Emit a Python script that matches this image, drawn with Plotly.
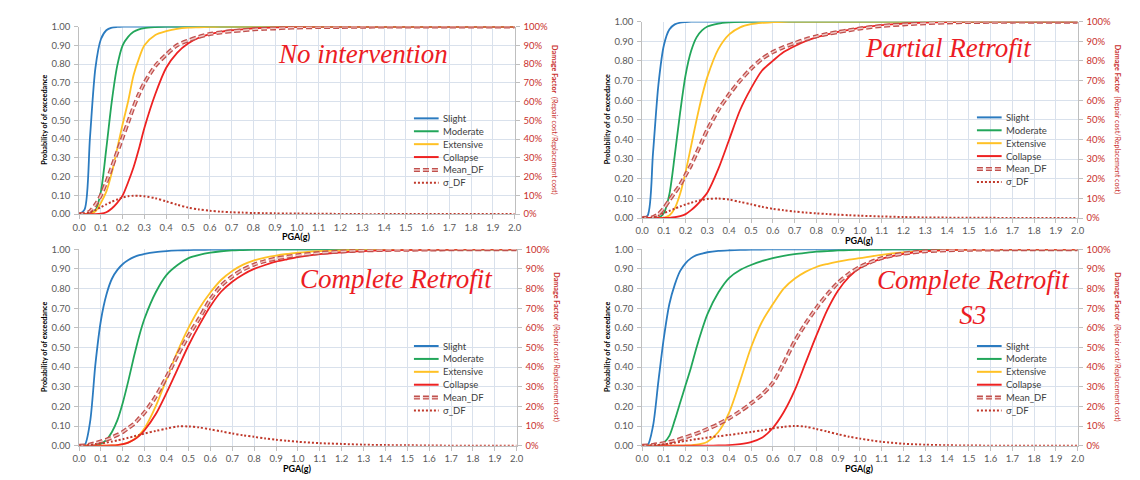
import plotly.graph_objects as go

W, H = 1140, 480

# Peak ground acceleration sample points (g)
PGA = [0.0, 0.025, 0.05, 0.075, 0.1, 0.125, 0.15, 0.175, 0.2, 0.225,
       0.25, 0.275, 0.3, 0.35, 0.4, 0.45, 0.5, 0.55, 0.6, 0.65,
       0.7, 0.75, 0.8, 0.85, 0.9, 0.95, 1.0, 1.1, 1.2, 1.3,
       1.4, 1.5, 1.6, 1.7, 1.8, 1.9, 2.0]

# --- No intervention ---
NI_SLIGHT = [0, 0.024, 0.41, 0.78, 0.932, 0.98, 0.994, 0.998, 1, 1,
             1, 1, 1, 1, 1, 1, 1, 1, 1, 1,
             1, 1, 1, 1, 1, 1, 1, 1, 1, 1,
             1, 1, 1, 1, 1, 1, 1]
NI_MODERATE = [0, 0, 0.002, 0.02, 0.12, 0.35, 0.6, 0.79, 0.9, 0.945,
               0.972, 0.985, 0.992, 0.997, 1, 1, 1, 1, 1, 1,
               1, 1, 1, 1, 1, 1, 1, 1, 1, 1,
               1, 1, 1, 1, 1, 1, 1]
NI_EXTENSIVE = [0, 0, 0.002, 0.015, 0.06, 0.12, 0.22, 0.35, 0.48, 0.6,
                0.74, 0.83, 0.9, 0.955, 0.975, 0.988, 0.994, 0.996, 0.998, 0.999,
                1, 1, 1, 1, 1, 1, 1, 1, 1, 1,
                1, 1, 1, 1, 1, 1, 1]
NI_COLLAPSE = [0, 0, 0, 0, 0.002, 0.01, 0.03, 0.06, 0.1, 0.17,
               0.25, 0.35, 0.46, 0.64, 0.78, 0.86, 0.91, 0.94, 0.96, 0.972,
               0.98, 0.985, 0.99, 0.993, 0.995, 0.997, 0.998, 0.999, 1, 1,
               1, 1, 1, 1, 1, 1, 1]
NI_MEAN_DF = [0, 0.002, 0.015, 0.05, 0.1, 0.17, 0.25, 0.33, 0.41, 0.49,
              0.57, 0.64, 0.7, 0.79, 0.85, 0.9, 0.925, 0.945, 0.96, 0.968,
              0.975, 0.98, 0.985, 0.988, 0.99, 0.993, 0.995, 0.997, 0.998, 0.999,
              1, 1, 1, 1, 1, 1, 1]
NI_SIGMA_DF = [0, 0.002, 0.01, 0.022, 0.037, 0.052, 0.066, 0.078, 0.088, 0.095,
               0.098, 0.098, 0.095, 0.085, 0.068, 0.05, 0.035, 0.025, 0.018, 0.013,
               0.01, 0.008, 0.006, 0.005, 0.004, 0.0035, 0.003, 0.002, 0.001, 0,
               0, 0, 0, 0, 0, 0, 0]

# --- Partial retrofit ---
PR_SLIGHT = [0, 0.012, 0.33, 0.68, 0.88, 0.96, 0.986, 0.995, 0.998, 1,
             1, 1, 1, 1, 1, 1, 1, 1, 1, 1,
             1, 1, 1, 1, 1, 1, 1, 1, 1, 1,
             1, 1, 1, 1, 1, 1, 1]
PR_MODERATE = [0, 0, 0, 0.001, 0.025, 0.12, 0.32, 0.54, 0.73, 0.85,
               0.92, 0.955, 0.975, 0.99, 0.996, 0.999, 1, 1, 1, 1,
               1, 1, 1, 1, 1, 1, 1, 1, 1, 1,
               1, 1, 1, 1, 1, 1, 1]
PR_EXTENSIVE = [0, 0, 0, 0, 0.002, 0.013, 0.05, 0.125, 0.236, 0.367,
                0.5, 0.62, 0.72, 0.86, 0.935, 0.971, 0.987, 0.994, 0.997, 0.999,
                1, 1, 1, 1, 1, 1, 1, 1, 1, 1,
                1, 1, 1, 1, 1, 1, 1]
PR_COLLAPSE = [0, 0, 0, 0, 0, 0.001, 0.004, 0.01, 0.02, 0.04,
               0.065, 0.095, 0.13, 0.25, 0.4, 0.55, 0.66, 0.75, 0.8, 0.845,
               0.875, 0.9, 0.92, 0.935, 0.948, 0.958, 0.968, 0.982, 0.99, 0.995,
               0.998, 1, 1, 1, 1, 1, 1]
PR_MEAN_DF = [0, 0.001, 0.005, 0.02, 0.05, 0.09, 0.13, 0.17, 0.22, 0.27,
              0.33, 0.39, 0.45, 0.55, 0.63, 0.7, 0.76, 0.81, 0.845, 0.87,
              0.89, 0.91, 0.925, 0.937, 0.947, 0.956, 0.965, 0.978, 0.986, 0.992,
              0.996, 0.998, 0.999, 1, 1, 1, 1]
PR_SIGMA_DF = [0, 0, 0.003, 0.012, 0.025, 0.036, 0.048, 0.059, 0.069, 0.078,
               0.086, 0.092, 0.097, 0.099, 0.094, 0.082, 0.07, 0.057, 0.047, 0.04,
               0.033, 0.028, 0.024, 0.02, 0.017, 0.014, 0.012, 0.008, 0.005, 0.003,
               0.002, 0.001, 0.001, 0, 0, 0, 0]

# --- Complete retrofit ---
CR_SLIGHT = [0, 0.003, 0.12, 0.42, 0.64, 0.77, 0.85, 0.895, 0.925, 0.945,
             0.96, 0.97, 0.977, 0.986, 0.991, 0.994, 0.996, 0.997, 0.998, 0.999,
             1, 1, 1, 1, 1, 1, 1, 1, 1, 1,
             1, 1, 1, 1, 1, 1, 1]
CR_MODERATE = [0, 0, 0, 0.002, 0.01, 0.03, 0.07, 0.13, 0.22, 0.33,
               0.45, 0.56, 0.65, 0.78, 0.87, 0.92, 0.955, 0.972, 0.983, 0.99,
               0.994, 0.996, 0.998, 0.999, 0.999, 1, 1, 1, 1, 1,
               1, 1, 1, 1, 1, 1, 1]
CR_EXTENSIVE = [0, 0, 0, 0, 0, 0, 0.001, 0.003, 0.008, 0.017,
                0.032, 0.055, 0.09, 0.2, 0.34, 0.48, 0.6, 0.7, 0.78, 0.845,
                0.89, 0.922, 0.944, 0.958, 0.968, 0.976, 0.983, 0.991, 0.995, 0.998,
                0.999, 1, 1, 1, 1, 1, 1]
CR_COLLAPSE = [0, 0, 0, 0, 0, 0, 0.001, 0.003, 0.008, 0.016,
               0.03, 0.05, 0.08, 0.16, 0.27, 0.39, 0.51, 0.615, 0.71, 0.785,
               0.835, 0.872, 0.9, 0.92, 0.937, 0.949, 0.96, 0.975, 0.985, 0.991,
               0.995, 0.997, 0.998, 0.999, 1, 1, 1]
CR_MEAN_DF = [0, 0.001, 0.006, 0.013, 0.022, 0.031, 0.042, 0.055, 0.07, 0.09,
              0.11, 0.14, 0.17, 0.25, 0.35, 0.46, 0.56, 0.65, 0.745, 0.815,
              0.862, 0.897, 0.922, 0.94, 0.953, 0.962, 0.97, 0.981, 0.989, 0.994,
              0.997, 0.998, 0.999, 1, 1, 1, 1]
CR_SIGMA_DF = [0, 0.001, 0.004, 0.008, 0.012, 0.016, 0.021, 0.027, 0.033, 0.04,
               0.047, 0.055, 0.062, 0.075, 0.087, 0.098, 0.098, 0.093, 0.083, 0.073,
               0.062, 0.053, 0.045, 0.037, 0.03, 0.025, 0.02, 0.013, 0.009, 0.005,
               0.003, 0.002, 0.001, 0, 0, 0, 0]

# --- Complete retrofit S3 ---
S3_SLIGHT = [0, 0.002, 0.1, 0.33, 0.55, 0.72, 0.82, 0.89, 0.93, 0.955,
             0.97, 0.978, 0.985, 0.992, 0.995, 0.997, 0.998, 0.999, 1, 1,
             1, 1, 1, 1, 1, 1, 1, 1, 1, 1,
             1, 1, 1, 1, 1, 1, 1]
S3_MODERATE = [0, 0, 0, 0.001, 0.015, 0.05, 0.13, 0.22, 0.31, 0.4,
               0.5, 0.59, 0.67, 0.78, 0.855, 0.895, 0.92, 0.94, 0.955, 0.966,
               0.975, 0.982, 0.988, 0.991, 0.994, 0.996, 0.997, 0.999, 1, 1,
               1, 1, 1, 1, 1, 1, 1]
S3_EXTENSIVE = [0, 0, 0, 0, 0, 0, 0, 0, 0.001, 0.002,
                0.005, 0.01, 0.02, 0.07, 0.17, 0.33, 0.5, 0.63, 0.72, 0.8,
                0.85, 0.885, 0.91, 0.925, 0.937, 0.947, 0.955, 0.972, 0.984, 0.992,
                0.996, 0.998, 0.999, 1, 1, 1, 1]
S3_COLLAPSE = [0, 0, 0, 0, 0, 0, 0, 0, 0, 0,
               0, 0, 0, 0.001, 0.003, 0.008, 0.018, 0.04, 0.09, 0.17,
               0.28, 0.42, 0.56, 0.69, 0.79, 0.86, 0.905, 0.952, 0.977, 0.99,
               0.996, 0.998, 0.999, 1, 1, 1, 1]
S3_MEAN_DF = [0, 0.001, 0.004, 0.008, 0.013, 0.019, 0.026, 0.034, 0.043, 0.052,
              0.062, 0.073, 0.085, 0.11, 0.14, 0.175, 0.215, 0.26, 0.32, 0.42,
              0.53, 0.62, 0.7, 0.77, 0.83, 0.875, 0.91, 0.955, 0.978, 0.99,
              0.995, 0.998, 0.999, 1, 1, 1, 1]
S3_SIGMA_DF = [0, 0.001, 0.002, 0.004, 0.007, 0.011, 0.015, 0.02, 0.025, 0.029,
               0.033, 0.037, 0.042, 0.048, 0.055, 0.062, 0.07, 0.078, 0.088, 0.096,
               0.1, 0.097, 0.085, 0.072, 0.058, 0.046, 0.036, 0.02, 0.01, 0.005,
               0.002, 0.001, 0, 0, 0, 0, 0]

SERIES_NAMES = ["Slight", "Moderate", "Extensive", "Collapse", "Mean_DF", "σ_DF"]
SCENARIO_TITLES = ["No intervention", "Partial Retrofit",
                   "Complete Retrofit", "Complete Retrofit<br>S3"]
SCENARIO_DATA = [
    (NI_SLIGHT, NI_MODERATE, NI_EXTENSIVE, NI_COLLAPSE, NI_MEAN_DF, NI_SIGMA_DF),
    (PR_SLIGHT, PR_MODERATE, PR_EXTENSIVE, PR_COLLAPSE, PR_MEAN_DF, PR_SIGMA_DF),
    (CR_SLIGHT, CR_MODERATE, CR_EXTENSIVE, CR_COLLAPSE, CR_MEAN_DF, CR_SIGMA_DF),
    (S3_SLIGHT, S3_MODERATE, S3_EXTENSIVE, S3_COLLAPSE, S3_MEAN_DF, S3_SIGMA_DF),
]

# ---------------------------------------------------------------- styling
STATE_COLORS = ["#2b7bc0", "#22a65a", "#ffc125", "#ee2222"]
DF_DARK = "#c0504d"
DF_LIGHT = "#f0c8c6"
SIGMA_COLOR = "#c0392b"
GRID = "#d9e1ec"
AXLINE = "#bfbfbf"
TICK_GRAY = "#595959"
RIGHT_RED = "#c9302c"
TITLE_RED = "#ec1c24"
SANS = "Lato"
MEAN_DASH = "6px,3px"
SIGMA_DASH = "2px,2px"

# plot-area boxes in pixels: left, right, top, bottom
BOXES = [(73, 514, 21, 213), (643, 1084, 16, 217),
         (73, 516, 249, 450), (643, 1084, 249, 450)]
TITLE_POS = [(360, 49), (953, 43), (394, 279), (979, 298)]
LEGEND_TOP = [115, 114, 348, 348]
LEGEND_STEP = 13.2


def fx(px):
    return px / W


def fy(py):
    return 1 - py / H


def note(text, px, py, font, angle=0, xanchor="center"):
    return dict(text=text, x=fx(px), y=fy(py), xref="paper", yref="paper",
                xanchor=xanchor, yanchor="middle", textangle=angle,
                showarrow=False, font=font)


fig = go.Figure()
layout = {}
annotations = []
shapes = []

for i, data in enumerate(SCENARIO_DATA):
    n = i + 1
    xa = "x" if n == 1 else f"x{n}"
    ya = "y" if n == 1 else f"y{n}"
    yr = f"y{n + 4}"
    x0, x1, t, b = BOXES[i]

    for name, vals, col in zip(SERIES_NAMES[:4], data[:4], STATE_COLORS):
        fig.add_trace(go.Scatter(
            x=PGA, y=vals, name=name, mode="lines", xaxis=xa, yaxis=ya,
            line=dict(color=col, width=1.8, shape="spline", smoothing=0.8),
            showlegend=False, hoverinfo="skip"))

    # Mean damage factor: hollow dashed line (outer + inner stroke)
    fig.add_trace(go.Scatter(
        x=PGA, y=data[4], name=SERIES_NAMES[4], mode="lines", xaxis=xa, yaxis=yr,
        line=dict(color=DF_DARK, width=4, dash=MEAN_DASH, shape="spline", smoothing=0.8),
        showlegend=False, hoverinfo="skip"))
    fig.add_trace(go.Scatter(
        x=PGA, y=data[4], name=SERIES_NAMES[4], mode="lines", xaxis=xa, yaxis=yr,
        line=dict(color=DF_LIGHT, width=1.4, dash=MEAN_DASH, shape="spline", smoothing=0.8),
        showlegend=False, hoverinfo="skip"))
    fig.add_trace(go.Scatter(
        x=PGA, y=data[5], name=SERIES_NAMES[5], mode="lines", xaxis=xa, yaxis=yr,
        line=dict(color=SIGMA_COLOR, width=2, dash=SIGMA_DASH, shape="spline", smoothing=0.8),
        showlegend=False, hoverinfo="skip"))

    xkey = "xaxis" if n == 1 else f"xaxis{n}"
    ykey = "yaxis" if n == 1 else f"yaxis{n}"
    rkey = f"yaxis{n + 4}"
    common = dict(showline=True, linecolor=AXLINE, linewidth=1, ticks="outside",
                  ticklen=4, tickcolor=AXLINE, zeroline=False, fixedrange=True)
    layout[xkey] = dict(domain=[fx(x0), fx(x1)], anchor=ya, range=[0, 2],
                        tick0=0, dtick=0.1, tickformat=".1f", showgrid=True,
                        gridcolor=GRID, gridwidth=1,
                        tickfont=dict(family=SANS, size=9.5, color=TICK_GRAY), **common)
    layout[ykey] = dict(domain=[fy(b), fy(t)], anchor=xa, range=[0, 1],
                        tick0=0, dtick=0.1, tickformat=".2f", showgrid=True,
                        gridcolor=GRID, gridwidth=1, ticklabelstandoff=2,
                        tickfont=dict(family=SANS, size=9.5, color=TICK_GRAY), **common)
    layout[rkey] = dict(overlaying=ya, side="right", anchor=xa, range=[0, 1],
                        tick0=0, dtick=0.1, tickformat=".0%", showgrid=False,
                        ticklabelstandoff=2,
                        tickfont=dict(family=SANS, size=9.5, color=RIGHT_RED), **common)

    cy = (t + b) / 2
    cx = (x0 + x1) / 2
    annotations.append(note("<b>Probability of of exceedance</b>", x0 - 35, cy,
                            dict(family=SANS, size=7.2, color="#000000"), angle=-90))
    annotations.append(note("<b>PGA(g)</b>", cx, b + 23,
                            dict(family=SANS, size=9, color="#000000")))
    annotations.append(note("<b>Damage Factor</b>  (Repair cost/Replacement cost)",
                            x1 + 40, cy,
                            dict(family=SANS, size=7.2, color=RIGHT_RED), angle=90))

    tx, ty = TITLE_POS[i]
    annotations.append(note(f"<i>{SCENARIO_TITLES[i]}</i>", tx, ty,
                            dict(family="Liberation Serif", size=27, color=TITLE_RED)))

    # in-plot legend
    lx0 = x0 + 339
    lx1 = lx0 + 25
    for k, name in enumerate(SERIES_NAMES):
        ry = LEGEND_TOP[i] + k * LEGEND_STEP
        seg = dict(type="line", xref="paper", yref="paper",
                   x0=fx(lx0), x1=fx(lx1), y0=fy(ry), y1=fy(ry))
        if k < 4:
            shapes.append({**seg, "line": dict(color=STATE_COLORS[k], width=2)})
        elif k == 4:
            shapes.append({**seg, "line": dict(color=DF_DARK, width=4, dash=MEAN_DASH)})
            shapes.append({**seg, "line": dict(color=DF_LIGHT, width=1.4, dash=MEAN_DASH)})
        else:
            shapes.append({**seg, "line": dict(color=SIGMA_COLOR, width=2, dash=SIGMA_DASH)})
        annotations.append(note(name, lx1 + 2, ry,
                                dict(family=SANS, size=9.5, color="#404040"),
                                xanchor="left"))

fig.update_layout(
    width=W, height=H, margin=dict(l=0, r=0, t=0, b=0),
    paper_bgcolor="white", plot_bgcolor="white", showlegend=False,
    annotations=annotations, shapes=shapes, **layout)

fig.write_html("out.html")
